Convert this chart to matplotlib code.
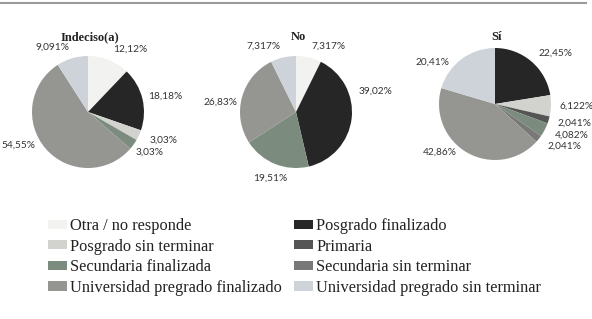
import numpy as np
import matplotlib
matplotlib.use("Agg")
import matplotlib.pyplot as plt
from matplotlib.lines import Line2D
from matplotlib.patches import Patch

categories = ["Otra / no responde", "Posgrado finalizado", "Posgrado sin terminar",
              "Primaria", "Secundaria finalizada", "Secundaria sin terminar",
              "Universidad pregrado finalizado", "Universidad pregrado sin terminar"]
colors = ["#f2f2f0", "#262626", "#d2d2ce", "#555555", "#7b8b7d", "#787876",
          "#959592", "#cdd3d9"]

groups = ["Indeciso(a)", "No", "Sí"]
indeciso = [12.12, 18.18, 3.03, 0, 3.03, 0, 54.55, 9.091]
no = [7.317, 39.02, 0, 0, 19.51, 0, 26.83, 7.317]
si = [0, 22.45, 6.122, 2.041, 4.082, 2.041, 42.86, 20.41]
series = [indeciso, no, si]

# label nudges (pixels, +x right, +y down) keyed by (group index, category index)
label_nudge = {
    (0, 1): (-5, 0), (0, 4): (-7, 1), (0, 6): (-2, -11),
    (1, 1): (-4, -29), (1, 4): (16, 4), (1, 6): (6, 8),
    (2, 2): (-3, 0), (2, 3): (-2, 0),
    (2, 6): (-5, -10), (2, 7): (-5, 12),
}

W, H = 592, 319
fig = plt.figure(figsize=(W / 100, H / 100), dpi=100)
fig.patch.set_facecolor("white")

# top rule
fig.add_artist(Line2D([0, 0.99], [1 - 2.5 / H, 1 - 2.5 / H], color="#9a9a9a", lw=1.5))

centers = [(88, 112), (296, 112), (495, 104)]
R = 56
lab_font = "Lato"

for gi, ((cx, cy), name, vals) in enumerate(zip(centers, groups, series)):
    ax = fig.add_axes([(cx - R) / W, (H - cy - R) / H, 2 * R / W, 2 * R / H])
    idx = [i for i, x in enumerate(vals) if x > 0]
    v = [vals[i] for i in idx]
    c = [colors[i] for i in idx]
    labels = [f"{x:g}".replace(".", ",") + "%" for x in v]
    wedges, texts = ax.pie(v, colors=c, startangle=90, counterclock=False,
                           labels=labels, labeldistance=1.2,
                           wedgeprops=dict(linewidth=0),
                           textprops=dict(fontsize=7.3, color="#333333", family=lab_font))
    for i, t in zip(idx, texts):
        if (gi, i) in label_nudge:
            dx, dy = label_nudge[(gi, i)]
            x, y = t.get_position()
            t.set_position((x + dx / R, y - dy / R))
    ax.set_xlim(-1, 1)
    ax.set_ylim(-1, 1)
    ax.set_aspect("equal")
    fig.text((cx + 2) / W, 1 - 37 / H, name, ha="center", va="center", fontsize=9,
             fontweight="bold", family="Liberation Serif", color="#222222")

handles = [Patch(facecolor=col, edgecolor="none") for col in colors]
# legend fills row-wise: reorder for column-major matplotlib legend
order = [0, 2, 4, 6, 1, 3, 5, 7]
leg = fig.legend([handles[i] for i in order], [categories[i] for i in order],
                 ncol=2, loc="upper left", bbox_to_anchor=(48 / W, 1 - 218 / H),
                 frameon=False, prop=dict(family="Liberation Serif", size=11.75),
                 handlelength=1.17, handleheight=0.5, handletextpad=0.2,
                 columnspacing=0.7, labelspacing=0.28, borderaxespad=0, borderpad=0)
for t in leg.get_texts():
    t.set_color("#222222")

fig.savefig("out.png", dpi=100, facecolor="white")
